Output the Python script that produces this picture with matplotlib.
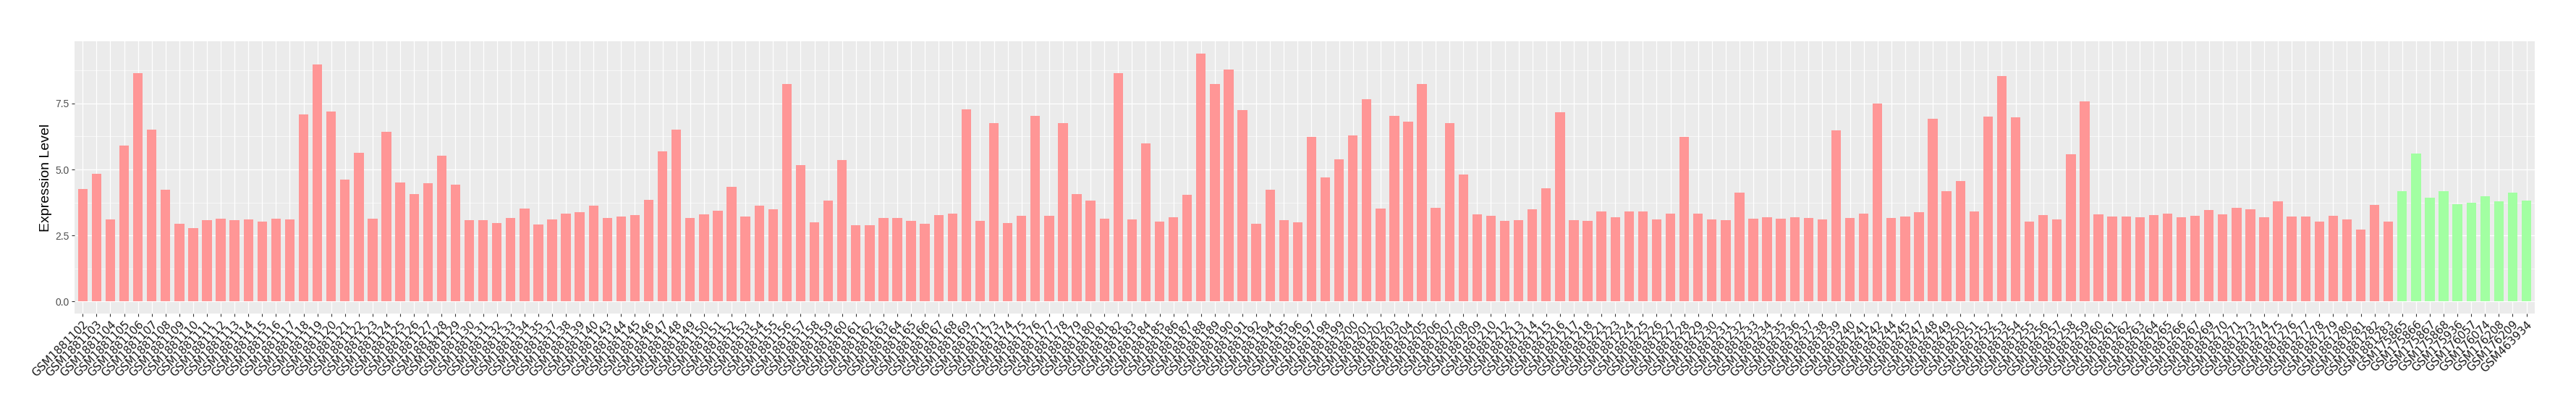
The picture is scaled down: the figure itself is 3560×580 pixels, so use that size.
import numpy as np
import matplotlib
matplotlib.use("Agg")
import matplotlib.pyplot as plt
from matplotlib.ticker import MultipleLocator

# sample ids (tumour group, red) and values
tumour_samples = [
    "GSM1881102", "GSM1881103", "GSM1881104", "GSM1881105", "GSM1881106", "GSM1881107",
    "GSM1881108", "GSM1881109", "GSM1881110", "GSM1881111", "GSM1881112", "GSM1881113",
    "GSM1881114", "GSM1881115", "GSM1881116", "GSM1881117", "GSM1881118", "GSM1881119",
    "GSM1881120", "GSM1881121", "GSM1881122", "GSM1881123", "GSM1881124", "GSM1881125",
    "GSM1881126", "GSM1881127", "GSM1881128", "GSM1881129", "GSM1881130", "GSM1881131",
    "GSM1881132", "GSM1881133", "GSM1881134", "GSM1881135", "GSM1881137", "GSM1881138",
    "GSM1881139", "GSM1881140", "GSM1881143", "GSM1881144", "GSM1881145", "GSM1881146",
    "GSM1881147", "GSM1881148", "GSM1881149", "GSM1881150", "GSM1881151", "GSM1881152",
    "GSM1881153", "GSM1881154", "GSM1881155", "GSM1881156", "GSM1881157", "GSM1881158",
    "GSM1881159", "GSM1881160", "GSM1881161", "GSM1881162", "GSM1881163", "GSM1881164",
    "GSM1881165", "GSM1881166", "GSM1881167", "GSM1881168", "GSM1881169", "GSM1881171",
    "GSM1881173", "GSM1881174", "GSM1881175", "GSM1881176", "GSM1881177", "GSM1881178",
    "GSM1881179", "GSM1881180", "GSM1881181", "GSM1881182", "GSM1881183", "GSM1881184",
    "GSM1881185", "GSM1881186", "GSM1881187", "GSM1881188", "GSM1881189", "GSM1881190",
    "GSM1881191", "GSM1881192", "GSM1881194", "GSM1881195", "GSM1881196", "GSM1881197",
    "GSM1881198", "GSM1881199", "GSM1881200", "GSM1881201", "GSM1881202", "GSM1881203",
    "GSM1881204", "GSM1881205", "GSM1881206", "GSM1881207", "GSM1881208", "GSM1881209",
    "GSM1881210", "GSM1881212", "GSM1881213", "GSM1881214", "GSM1881215", "GSM1881216",
    "GSM1881217", "GSM1881218", "GSM1881221", "GSM1881223", "GSM1881224", "GSM1881225",
    "GSM1881226", "GSM1881227", "GSM1881228", "GSM1881229", "GSM1881230", "GSM1881231",
    "GSM1881232", "GSM1881233", "GSM1881234", "GSM1881235", "GSM1881236", "GSM1881237",
    "GSM1881238", "GSM1881239", "GSM1881240", "GSM1881241", "GSM1881242", "GSM1881244",
    "GSM1881245", "GSM1881247", "GSM1881248", "GSM1881249", "GSM1881250", "GSM1881251",
    "GSM1881252", "GSM1881253", "GSM1881254", "GSM1881255", "GSM1881256", "GSM1881257",
    "GSM1881258", "GSM1881259", "GSM1881260", "GSM1881261", "GSM1881262", "GSM1881263",
    "GSM1881264", "GSM1881265", "GSM1881266", "GSM1881267", "GSM1881269", "GSM1881270",
    "GSM1881271", "GSM1881273", "GSM1881274", "GSM1881275", "GSM1881276", "GSM1881277",
    "GSM1881278", "GSM1881279", "GSM1881280", "GSM1881281", "GSM1881282", "GSM1881283",
]
tumour_values = [
    4.25, 4.83, 3.10, 5.90, 8.65, 6.50, 4.23, 2.94, 2.79, 3.07, 3.13, 3.07,
    3.10, 3.02, 3.13, 3.10, 7.08, 8.98, 7.19, 4.61, 5.63, 3.13, 6.43, 4.50,
    4.08, 4.47, 5.52, 4.42, 3.07, 3.07, 2.96, 3.15, 3.51, 2.91, 3.10, 3.32,
    3.37, 3.62, 3.15, 3.21, 3.27, 3.84, 5.68, 6.50, 3.15, 3.29, 3.43, 4.34,
    3.21, 3.62, 3.49, 8.24, 5.16, 2.99, 3.82, 5.35, 2.88, 2.88, 3.15, 3.15,
    3.04, 2.94, 3.27, 3.34, 7.27, 3.04, 6.75, 2.96, 3.24, 7.02, 3.24, 6.75,
    4.06, 3.82, 3.13, 8.65, 3.10, 5.98, 3.02, 3.18, 4.04, 9.39, 8.24, 8.79,
    7.24, 2.94, 4.23, 3.07, 2.99, 6.23, 4.69, 5.38, 6.28, 7.66, 3.51, 7.02,
    6.81, 8.24, 3.54, 6.75, 4.80, 3.29, 3.24, 3.04, 3.07, 3.49, 4.28, 7.17,
    3.07, 3.04, 3.40, 3.18, 3.40, 3.40, 3.10, 3.34, 6.23, 3.34, 3.10, 3.07,
    4.11, 3.13, 3.18, 3.13, 3.18, 3.15, 3.10, 6.47, 3.15, 3.32, 7.50, 3.15,
    3.21, 3.37, 6.92, 4.17, 4.56, 3.40, 7.00, 8.54, 6.97, 3.02, 3.27, 3.10,
    5.57, 7.57, 3.29, 3.21, 3.21, 3.18, 3.27, 3.34, 3.18, 3.24, 3.46, 3.29,
    3.54, 3.49, 3.18, 3.79, 3.21, 3.21, 3.02, 3.24, 3.10, 2.72, 3.65, 3.02,
]

# normal group (green)
normal_samples = [
    "GSM175865", "GSM175866", "GSM175867", "GSM175868", "GSM175936",
    "GSM176057", "GSM176074", "GSM176208", "GSM176209", "GSM463934",
]
normal_values = [4.17, 5.60, 3.92, 4.17, 3.68, 3.73, 3.98, 3.79, 4.11, 3.82]

tumour_color = "#FF9696"
normal_color = "#A2FFA2"

samples = tumour_samples + normal_samples
values = tumour_values + normal_values
colors = [tumour_color] * len(tumour_samples) + [normal_color] * len(normal_samples)
x = np.arange(len(samples))

fig = plt.figure(figsize=(35.6, 5.8), dpi=100)
ax = fig.add_axes([0.02888, 0.2528, 0.9551, 0.649])
ax.set_facecolor("#EBEBEB")

ax.bar(x, values, width=0.7, color=colors, zorder=2)

# ggplot-like expansion
vmax = max(values)
ax.set_ylim(-0.05 * vmax, 1.05 * vmax)
ax.set_xlim(-0.6, len(samples) - 0.4)

ax.yaxis.set_major_locator(MultipleLocator(2.5))
ax.yaxis.set_minor_locator(MultipleLocator(1.25))
ax.set_xticks(x)
ax.set_xticklabels(samples, rotation=45, ha="right", va="top",
                   rotation_mode="anchor", fontsize=11, family="DejaVu Sans",
                   color="#1A1A1A")
ax.set_yticks([0, 2.5, 5.0, 7.5])
ax.set_yticklabels(["0.0", "2.5", "5.0", "7.5"], fontsize=10,
                   family="Liberation Sans", color="#4D4D4D")

ax.grid(which="major", color="white", linewidth=0.9, zorder=0)
ax.grid(which="minor", axis="y", color="white", linewidth=0.45, zorder=0)
ax.set_axisbelow(True)

for s in ax.spines.values():
    s.set_visible(False)
ax.tick_params(axis="both", which="major", color="#333333", length=3, width=0.8, pad=2)
ax.tick_params(axis="both", which="minor", length=0)

ax.set_ylabel("Expression Level", fontsize=14, family="Liberation Sans", labelpad=3)

fig.savefig("out.png", dpi=100)
